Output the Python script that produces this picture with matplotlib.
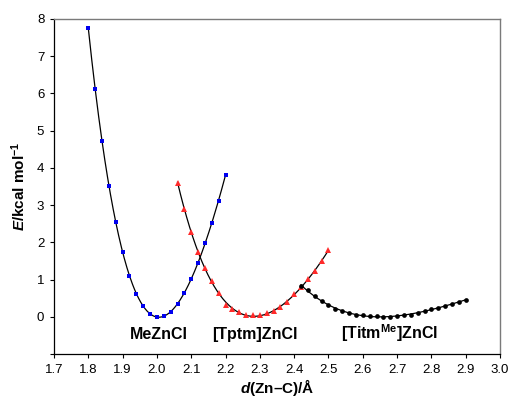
import numpy as np
import matplotlib
matplotlib.use("Agg")
import matplotlib.pyplot as plt

plt.rcParams['font.family'] = ['Liberation Sans', 'DejaVu Sans']
plt.rcParams['mathtext.fontset'] = 'custom'
plt.rcParams['mathtext.rm'] = 'Liberation Sans:bold'
plt.rcParams['mathtext.it'] = 'Liberation Sans:italic:bold'
plt.rcParams['mathtext.bf'] = 'Liberation Sans:bold'

# MeZnCl (blue squares)
me_x = [1.80, 1.82, 1.84, 1.86, 1.88, 1.90, 1.92, 1.94, 1.96, 1.98, 2.00,
        2.02, 2.04, 2.06, 2.08, 2.10, 2.12, 2.14, 2.16, 2.18, 2.20]
me_e = [7.75, 6.12, 4.72, 3.52, 2.55, 1.75, 1.10, 0.62, 0.28, 0.07, 0.00,
        0.01, 0.14, 0.35, 0.65, 1.02, 1.45, 1.97, 2.52, 3.12, 3.82]

# [Tptm]ZnCl (red triangles)
tp_x = [2.06, 2.08, 2.10, 2.12, 2.14, 2.16, 2.18, 2.20, 2.22, 2.24, 2.26, 2.28,
        2.30, 2.32, 2.34, 2.36, 2.38, 2.40, 2.42, 2.44, 2.46, 2.48, 2.50]
tp_e = [3.60, 2.90, 2.28, 1.75, 1.30, 0.95, 0.64, 0.31, 0.22, 0.12, 0.06, 0.04,
        0.04, 0.09, 0.15, 0.26, 0.40, 0.60, 0.80, 1.01, 1.24, 1.50, 1.79]

# [Titm^Me]ZnCl (black circles)
ti_x = [2.42, 2.44, 2.46, 2.48, 2.50, 2.52, 2.54, 2.56, 2.58, 2.60, 2.62, 2.64,
        2.66, 2.68, 2.70, 2.72, 2.74, 2.76, 2.78, 2.80, 2.82, 2.84, 2.86, 2.88, 2.90]
ti_e = [0.83, 0.71, 0.57, 0.43, 0.31, 0.21, 0.145, 0.09, 0.06, 0.045, 0.03, 0.01,
        0.00, 0.00, 0.02, 0.04, 0.06, 0.11, 0.145, 0.20, 0.24, 0.29, 0.35, 0.40, 0.45]

labels = ['MeZnCl', '[Tptm]ZnCl', r'[Titm$^{\mathrm{Me}}$]ZnCl']
label_x = [2.005, 2.286, 2.677]
label_y = [-0.47, -0.47, -0.45]

fig = plt.figure(figsize=(5.08, 3.99), dpi=100)
ax = fig.add_axes([0.1063, 0.1128, 0.878, 0.8396])

series = [(me_x, me_e, 's', '#0000ee', 3.3),
          (tp_x, tp_e, '^', '#ff2a2a', 4.2),
          (ti_x, ti_e, 'o', 'black', 3.4)]
for xs, es, mk, col, ms in series:
    ax.plot(xs, es, linestyle='none', marker=mk, color=col, markersize=ms,
            markeredgewidth=0, zorder=4)
    # polynomial trendline through the points
    c = np.polyfit(xs, es, 4)
    xf = np.linspace(min(xs), max(xs), 200)
    ax.plot(xf, np.polyval(c, xf), color='black', lw=0.9, zorder=3)

for t, x, y in zip(labels, label_x, label_y):
    ax.text(x, y, t, ha='center', va='center', fontsize=11.5, fontweight='bold')

ax.set_xlim(1.7, 3.0)
ax.set_ylim(-1, 8)
ax.set_xticks(np.arange(1.7, 3.01, 0.1))
ax.set_xticklabels([f'{v:.1f}' for v in np.arange(1.7, 3.01, 0.1)])
ax.set_yticks(range(-1, 9))
ax.set_yticklabels([''] + [str(v) for v in range(0, 9)])
ax.tick_params(direction='out', length=3, width=0.8, labelsize=9.5, pad=4)

for s in ['left', 'bottom']:
    ax.spines[s].set_color('black')
    ax.spines[s].set_linewidth(0.9)
for s in ['top', 'right']:
    ax.spines[s].set_color('#7a7a7a')
    ax.spines[s].set_linewidth(1.0)

ax.set_xlabel(r'$\it{d}$(Zn–C)/Å', fontsize=11, fontweight='bold', labelpad=1)
ax.set_ylabel(r'$\it{E}$/kcal mol$^{-1}$', fontsize=11, fontweight='bold', labelpad=6)

fig.savefig('out.png', dpi=100)
